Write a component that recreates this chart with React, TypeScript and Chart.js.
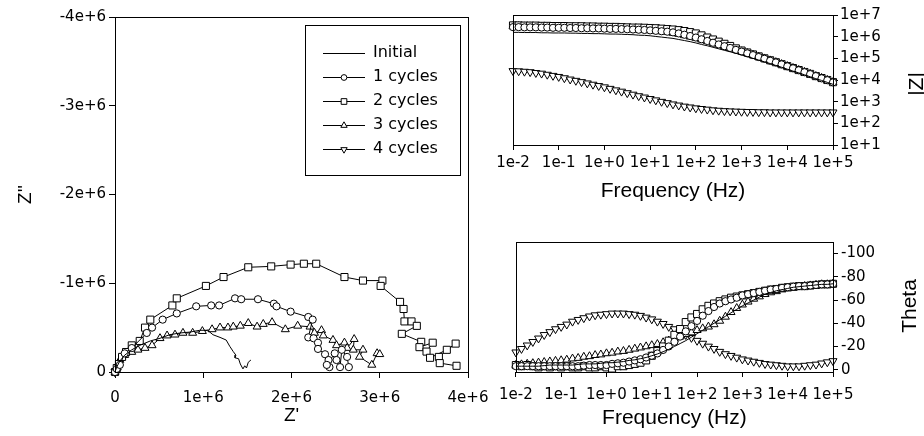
import React, { useEffect, useRef } from 'react';
import { Chart, registerables } from 'chart.js';

Chart.register(...registerables);
Chart.defaults.font.family = 'DejaVu Sans';
Chart.defaults.color = '#000';

// ---------- Series names ----------
const seriesLabels = ['Initial', '1 cycles', '2 cycles', '3 cycles', '4 cycles'];

// ---------- Nyquist data (Z' , Z'' in ohm) ----------
const nyqInitRe = [0, 2e4, 5.5e4, 1.1e5, 1.9e5, 2.8e5, 4.0e5, 5.1e5, 6.2e5, 7.4e5, 8.5e5, 9.6e5, 1.05e6, 1.11e6, 1.19e6, 1.26e6, 1.30e6, 1.34e6, 1.37e6, 1.36e6, 1.40e6, 1.42e6, 1.45e6, 1.47e6, 1.49e6, 1.51e6, 1.54e6];
const nyqInitIm = [0, -5.6e4, -1.24e5, -1.9e5, -2.5e5, -3.0e5, -3.5e5, -3.8e5, -4.2e5, -4.4e5, -4.5e5, -4.7e5, -4.7e5, -4.2e5, -3.9e5, -3.6e5, -2.9e5, -2.3e5, -1.9e5, -1.6e5, -1.5e5, -9e4, -3.5e4, -7e4, -4.5e4, -1.1e5, -1.35e5];

const nyqC1Re = [0, 2e4, 5.5e4, 1.1e5, 1.9e5, 3.6e5, 4.2e5, 5.4e5, 7.0e5, 9.2e5, 1.09e6, 1.18e6, 1.36e6, 1.43e6, 1.62e6, 1.80e6, 1.83e6, 1.99e6, 2.19e6, 2.24e6, 2.19e6, 2.25e6, 2.30e6, 2.30e6, 2.38e6, 2.42e6, 2.43e6, 2.40e6, 2.49e6, 2.51e6, 2.55e6, 2.57e6, 2.63e6, 2.65e6];
const nyqC1Im = [0, -3.5e4, -8e4, -2.1e5, -2.7e5, -4.4e5, -5.0e5, -5.9e5, -6.6e5, -7.4e5, -7.5e5, -7.5e5, -8.3e5, -8.2e5, -8.2e5, -7.7e5, -7.4e5, -6.8e5, -6.2e5, -5.9e5, -3.9e5, -3.8e5, -3.3e5, -2.6e5, -2.0e5, -1.35e5, -5.5e4, -8e4, -2.1e5, -1.35e5, -5.5e4, -2.5e5, -1.7e5, -5.5e4];

const nyqC2Re = [0, 2e4, 4.5e4, 8e4, 1.25e5, 1.9e5, 2.8e5, 3.4e5, 4.0e5, 6.5e5, 7.0e5, 1.03e6, 1.23e6, 1.51e6, 1.77e6, 1.99e6, 2.14e6, 2.28e6, 2.60e6, 2.81e6, 3.03e6, 3.01e6, 3.23e6, 3.27e6, 3.28e6, 3.36e6, 3.42e6, 3.25e6, 3.47e6, 3.45e6, 3.60e6, 3.53e6, 3.57e6, 3.76e6, 3.86e6, 3.67e6, 3.68e6, 3.87e6];
const nyqC2Im = [0, -4.5e4, -9e4, -1.7e5, -2.25e5, -3.0e5, -3.5e5, -5.0e5, -5.9e5, -7.5e5, -8.3e5, -9.7e5, -1.07e6, -1.18e6, -1.19e6, -1.21e6, -1.22e6, -1.22e6, -1.07e6, -1.03e6, -1.03e6, -9.7e5, -7.9e5, -7.1e5, -5.7e5, -5.7e5, -5.2e5, -4.3e5, -3.4e5, -2.8e5, -3.3e5, -2.3e5, -1.6e5, -2.5e5, -3.2e5, -1.7e5, -1.0e5, -7e4];

const nyqC3Re = [0, 2e4, 5.5e4, 1.1e5, 1.9e5, 2.6e5, 3.4e5, 4.2e5, 5.1e5, 5.9e5, 6.8e5, 7.7e5, 8.8e5, 9.9e5, 1.10e6, 1.19e6, 1.28e6, 1.34e6, 1.42e6, 1.51e6, 1.61e6, 1.68e6, 1.78e6, 1.93e6, 2.07e6, 2.21e6, 2.26e6, 2.34e6, 2.36e6, 2.47e6, 2.51e6, 2.60e6, 2.63e6, 2.71e6, 2.70e6, 2.81e6, 2.77e6, 2.91e6, 2.97e6, 3.00e6];
const nyqC3Im = [0, -4.5e4, -1.35e5, -1.9e5, -2.25e5, -2.5e5, -2.7e5, -3.0e5, -3.8e5, -4.1e5, -4.2e5, -4.4e5, -4.4e5, -4.6e5, -4.8e5, -5.0e5, -5.0e5, -5.1e5, -5.2e5, -5.5e5, -5.1e5, -5.4e5, -5.6e5, -4.8e5, -5.2e5, -5.1e5, -4.4e5, -4.7e5, -4.1e5, -3.6e5, -3.0e5, -3.3e5, -2.7e5, -3.7e5, -2.5e5, -2.5e5, -1.7e5, -8e4, -2.1e5, -2.0e5];

const nyqC4Re = [330, 2000, 8000, 20000, 26000];
const nyqC4Im = [-10, -1500, -8000, -12000, -7000];

const nyqXTicks = [0, 1e6, 2e6, 3e6, 4e6];
const nyqXTickLabels = ['0', '1e+6', '2e+6', '3e+6', '4e+6'];
const nyqYTicks = [-4e6, -3e6, -2e6, -1e6, 0];
const nyqYTickLabels = ['-4e+6', '-3e+6', '-2e+6', '-1e+6', '0'];

// ---------- Bode data (8 points per decade) ----------
const freqHz = [
  0.01, 0.0133, 0.0178, 0.0237, 0.0316, 0.0422, 0.0562, 0.075,
  0.1, 0.133, 0.178, 0.237, 0.316, 0.422, 0.562, 0.75,
  1, 1.33, 1.78, 2.37, 3.16, 4.22, 5.62, 7.5,
  10, 13.3, 17.8, 23.7, 31.6, 42.2, 56.2, 75,
  100, 133, 178, 237, 316, 422, 562, 750,
  1000, 1334, 1778, 2371, 3162, 4217, 5623, 7499,
  10000, 13335, 17783, 23714, 31623, 42170, 56234, 74989,
  100000,
];

const magInitial = [
  1.58e6, 1.58e6, 1.55e6, 1.55e6, 1.55e6, 1.51e6, 1.51e6, 1.48e6,
  1.48e6, 1.48e6, 1.45e6, 1.45e6, 1.41e6, 1.41e6, 1.38e6, 1.38e6,
  1.35e6, 1.32e6, 1.32e6, 1.29e6, 1.26e6, 1.23e6, 1.17e6, 1.15e6,
  1.10e6, 1.02e6, 9.55e5, 8.91e5, 8.32e5, 7.41e5, 6.61e5, 5.89e5,
  5.13e5, 4.37e5, 3.80e5, 3.24e5, 2.75e5, 2.34e5, 2.0e5, 1.70e5,
  1.45e5, 1.20e5, 1.0e5, 8.32e4, 6.92e4, 5.75e4, 4.68e4, 3.89e4,
  3.16e4, 2.57e4, 2.14e4, 1.74e4, 1.41e4, 1.15e4, 9.55e3, 7.76e3,
  6.31e3,
];
const mag1 = [
  2.75e6, 2.75e6, 2.69e6, 2.69e6, 2.69e6, 2.63e6, 2.63e6, 2.57e6,
  2.57e6, 2.57e6, 2.51e6, 2.51e6, 2.45e6, 2.45e6, 2.40e6, 2.40e6,
  2.34e6, 2.29e6, 2.29e6, 2.24e6, 2.19e6, 2.14e6, 2.09e6, 2.04e6,
  1.95e6, 1.86e6, 1.78e6, 1.70e6, 1.58e6, 1.41e6, 1.23e6, 1.07e6,
  9.12e5, 7.59e5, 6.31e5, 5.25e5, 4.37e5, 3.63e5, 3.02e5, 2.45e5,
  2.04e5, 1.70e5, 1.41e5, 1.15e5, 9.55e4, 7.76e4, 6.46e4, 5.25e4,
  4.27e4, 3.47e4, 2.82e4, 2.29e4, 1.86e4, 1.51e4, 1.20e4, 9.77e3,
  7.76e3,
];
const mag2 = [
  3.31e6, 3.31e6, 3.24e6, 3.24e6, 3.24e6, 3.16e6, 3.16e6, 3.09e6,
  3.09e6, 3.09e6, 3.02e6, 3.02e6, 3.02e6, 2.95e6, 2.95e6, 2.88e6,
  2.88e6, 2.82e6, 2.82e6, 2.75e6, 2.69e6, 2.63e6, 2.63e6, 2.57e6,
  2.51e6, 2.45e6, 2.34e6, 2.24e6, 2.14e6, 2.0e6, 1.82e6, 1.62e6,
  1.41e6, 1.15e6, 9.12e5, 7.41e5, 5.89e5, 4.68e5, 3.72e5, 2.88e5,
  2.29e5, 1.86e5, 1.51e5, 1.23e5, 1.0e5, 8.13e4, 6.61e4, 5.37e4,
  4.37e4, 3.55e4, 2.88e4, 2.34e4, 1.91e4, 1.51e4, 1.23e4, 1.0e4,
  7.94e3,
];
const mag3 = [
  3.02e6, 3.02e6, 2.95e6, 2.95e6, 2.88e6, 2.88e6, 2.82e6, 2.82e6,
  2.82e6, 2.75e6, 2.69e6, 2.63e6, 2.63e6, 2.57e6, 2.51e6, 2.51e6,
  2.45e6, 2.40e6, 2.34e6, 2.29e6, 2.24e6, 2.19e6, 2.09e6, 2.04e6,
  1.95e6, 1.86e6, 1.74e6, 1.62e6, 1.48e6, 1.32e6, 1.15e6, 1.0e6,
  8.71e5, 7.24e5, 6.17e5, 5.13e5, 4.27e5, 3.55e5, 2.95e5, 2.51e5,
  2.09e5, 1.74e5, 1.45e5, 1.17e5, 9.77e4, 7.94e4, 6.61e4, 5.37e4,
  4.37e4, 3.55e4, 2.88e4, 2.34e4, 1.91e4, 1.51e4, 1.23e4, 1.0e4,
  7.94e3,
];
const mag4 = [
  2.63e4, 2.57e4, 2.45e4, 2.34e4, 2.14e4, 2.0e4, 1.78e4, 1.58e4,
  1.41e4, 1.23e4, 1.07e4, 9.33e3, 8.13e3, 7.08e3, 6.17e3, 5.37e3,
  4.68e3, 3.98e3, 3.39e3, 2.95e3, 2.51e3, 2.14e3, 1.82e3, 1.58e3,
  1.35e3, 1.17e3, 1.0e3, 871, 759, 676, 603, 550,
  501, 468, 437, 407, 389, 372, 363, 355,
  347, 339, 339, 331, 331, 324, 324, 324,
  324, 324, 324, 324, 324, 324, 324, 324,
  324,
];

const thetaInitial = [
  -3, -3, -3, -3, -3, -3.5, -4, -4,
  -4, -4, -4, -4.5, -5, -5, -5, -5.5,
  -6, -6, -6.5, -7, -8, -8.5, -9.5, -10.5,
  -12, -13.5, -15.5, -17.5, -20, -22.5, -25, -28,
  -31, -34, -37, -40, -43, -46, -49, -52,
  -55, -57.5, -60, -62.5, -65, -66.5, -68, -69,
  -70, -71, -71.5, -72, -72.5, -73, -73.5, -73.5,
  -74,
];
const theta1 = [
  -3, -3, -3, -3, -3, -3, -3, -3,
  -3, -3, -3, -3, -3.5, -4, -4, -4,
  -4, -5, -5.5, -6, -7, -8, -9, -10.5,
  -12, -14, -17, -20, -24, -28.5, -33, -37.5,
  -42, -46.5, -50.5, -54, -57, -59, -60.5, -62,
  -64, -65, -66, -67, -68, -69, -69.5, -70.5,
  -71, -71.5, -72, -72, -72.5, -73, -73.5, -73.5,
  -74,
];
const theta2 = [
  -4, -3, -4, -3, -2, -3, -2, -3,
  -2, -3, -2, -2, -3, -2, -2, -3,
  -2, -1, -3, -3, -4, -5, -6, -8,
  -12, -16, -20, -25, -30, -35, -41, -45,
  -48, -52, -55, -57, -59, -60.5, -62, -63,
  -64, -65, -66, -67, -68, -69, -69.5, -70.5,
  -71, -71.5, -72, -72, -72.5, -73, -73.5, -73.5,
  -74,
];
const theta3 = [
  -4, -4.5, -5, -5.5, -6, -6.5, -7, -7.5,
  -8, -8.5, -9.5, -10, -11, -11.5, -12.5, -13,
  -14, -14.5, -15.5, -16, -17, -18, -19, -20,
  -21, -22, -23.5, -25, -26.5, -28.5, -30.5, -32,
  -34, -35.5, -37, -39, -42, -45.5, -49.5, -53,
  -56, -58.5, -61, -63, -65, -66.5, -67.5, -69,
  -70, -70.5, -71.5, -72, -72.5, -73, -73.5, -73.5,
  -74,
];
const theta4 = [
  -15, -18, -21, -24, -27, -30, -32.5, -35,
  -37, -39, -41.5, -43, -44.5, -46, -47, -47.5,
  -48, -48.5, -48.5, -48.5, -48, -47.5, -46.5, -45,
  -43.5, -41.5, -39.5, -37, -35, -32.5, -30, -27.5,
  -25, -22.5, -20, -18, -15.5, -13.5, -12, -10.5,
  -9, -8, -7, -6, -5, -4.5, -4, -3.5,
  -3, -3, -3, -3.5, -4, -4.5, -5.5, -6.5,
  -7.5,
];

const freqTicks = [0.01, 0.1, 1, 10, 100, 1000, 10000, 100000];
const freqTickLabels = ['1e-2', '1e-1', '1e+0', '1e+1', '1e+2', '1e+3', '1e+4', '1e+5'];
const magTicks = [10, 100, 1000, 1e4, 1e5, 1e6, 1e7];
const magTickLabels = ['1e+1', '1e+2', '1e+3', '1e+4', '1e+5', '1e+6', '1e+7'];
const thetaTicks = [-100, -80, -60, -40, -20, 0];
const thetaTickLabels = ['-100', '-80', '-60', '-40', '-20', '0'];

// ---------- styles ----------
const markerStyles: any[] = [
  { pointStyle: 'circle', pointRadius: 0 },
  { pointStyle: 'circle', pointRadius: 3.6 },
  { pointStyle: 'rect', pointRadius: 5 },
  { pointStyle: 'triangle', pointRadius: 4.6, pointRotation: 0 },
  { pointStyle: 'triangle', pointRadius: 4.6, pointRotation: 180 },
];

const tickFont = { family: 'DejaVu Sans', size: 15 };

function pts(xs: number[], ys: number[]) {
  return xs.map((x, i) => ({ x, y: ys[i] }));
}

function makeDatasets(pairs: [number[], number[]][]) {
  return pairs.map(([xs, ys], i) => ({
    label: seriesLabels[i],
    data: pts(xs, ys),
    showLine: true,
    borderColor: '#000',
    borderWidth: 1,
    pointBorderColor: '#000',
    pointBackgroundColor: '#fff',
    pointBorderWidth: 1,
    tension: 0,
    clip: false,
    ...markerStyles[i],
    pointHoverRadius: markerStyles[i].pointRadius,
  }));
}

const framePlugin = {
  id: 'frame',
  afterDraw(chart: any) {
    const { ctx, chartArea } = chart;
    const l = Math.round(chartArea.left) + 0.5;
    const t = Math.round(chartArea.top) + 0.5;
    const r = Math.round(chartArea.right) + 0.5;
    const b = Math.round(chartArea.bottom) + 0.5;
    ctx.save();
    ctx.strokeStyle = '#000';
    ctx.lineWidth = 1;
    ctx.strokeRect(l, t, r - l, b - t);
    ctx.restore();
  },
};

function drawMarker(ctx: CanvasRenderingContext2D, style: string, x: number, y: number, r: number, rotDeg: number) {
  ctx.beginPath();
  if (style === 'circle') {
    ctx.arc(x, y, r, 0, Math.PI * 2);
  } else if (style === 'rect') {
    const s = r * Math.SQRT1_2;
    ctx.rect(x - s, y - s, 2 * s, 2 * s);
  } else {
    let rad = (rotDeg * Math.PI) / 180;
    ctx.moveTo(x + Math.sin(rad) * r, y - Math.cos(rad) * r);
    rad += (2 * Math.PI) / 3;
    ctx.lineTo(x + Math.sin(rad) * r, y - Math.cos(rad) * r);
    rad += (2 * Math.PI) / 3;
    ctx.lineTo(x + Math.sin(rad) * r, y - Math.cos(rad) * r);
    ctx.closePath();
  }
  ctx.fillStyle = '#fff';
  ctx.fill();
  ctx.stroke();
}

const nyqLegendPlugin = {
  id: 'nyqLegend',
  afterDraw(chart: any) {
    const ctx: CanvasRenderingContext2D = chart.ctx;
    ctx.save();
    ctx.fillStyle = '#fff';
    ctx.fillRect(305.5, 25.5, 155, 150);
    ctx.strokeStyle = '#000';
    ctx.lineWidth = 1;
    ctx.strokeRect(305.5, 25.5, 155, 150);
    ctx.font = '16px "DejaVu Sans"';
    ctx.textBaseline = 'middle';
    ctx.textAlign = 'left';
    chart.data.datasets.forEach((ds: any, i: number) => {
      const y = 53 + i * 24;
      ctx.beginPath();
      ctx.moveTo(323, Math.round(y) + 0.5);
      ctx.lineTo(365, Math.round(y) + 0.5);
      ctx.stroke();
      if (ds.pointRadius > 0) {
        drawMarker(ctx, ds.pointStyle, 344, y + 0.5, ds.pointRadius * 0.8, ds.pointRotation || 0);
      }
      ctx.fillStyle = '#000';
      ctx.fillText(ds.label, 373, y);
    });
    ctx.restore();
  },
};

function sideTitlePlugin(text: string, x: number, y: number) {
  return {
    id: 'sideTitle',
    afterDraw(chart: any) {
      const ctx: CanvasRenderingContext2D = chart.ctx;
      ctx.save();
      ctx.font = '21px "Liberation Sans"';
      ctx.fillStyle = '#000';
      ctx.textAlign = 'center';
      ctx.textBaseline = 'middle';
      ctx.translate(x, y);
      ctx.rotate(-Math.PI / 2);
      ctx.fillText(text, 0, 0);
      ctx.restore();
    },
  };
}

function axisBase(ticksArr: number[], labels: string[], tickLen: number, pad: number, fit: (s: any) => void) {
  return {
    afterBuildTicks: (s: any) => {
      s.ticks = ticksArr.map((v) => ({ value: v }));
    },
    afterFit: fit,
    ticks: {
      font: tickFont,
      color: '#000',
      padding: pad,
      autoSkip: false,
      maxRotation: 0,
      minRotation: 0,
      callback: (_v: any, i: number) => labels[i],
    },
    grid: { display: true, drawOnChartArea: false, drawTicks: true, tickLength: tickLen, color: '#000', lineWidth: 1 },
    border: { display: false },
  };
}

const commonOpts = {
  responsive: false,
  maintainAspectRatio: false,
  animation: false as const,
  devicePixelRatio: 1,
  events: [] as any[],
  plugins: { legend: { display: false }, tooltip: { enabled: false } },
};

export default function App() {
  const nyqRef = useRef<HTMLCanvasElement>(null);
  const magRef = useRef<HTMLCanvasElement>(null);
  const phRef = useRef<HTMLCanvasElement>(null);

  useEffect(() => {
    const nyq = new Chart(nyqRef.current as HTMLCanvasElement, {
      type: 'scatter',
      data: {
        datasets: makeDatasets([
          [nyqInitRe, nyqInitIm],
          [nyqC1Re, nyqC1Im],
          [nyqC2Re, nyqC2Im],
          [nyqC3Re, nyqC3Im],
          [nyqC4Re, nyqC4Im],
        ]) as any,
      },
      options: {
        ...commonOpts,
        layout: { padding: { left: 0, top: 17, right: 32, bottom: 0 } },
        scales: {
          x: {
            type: 'linear',
            position: 'bottom',
            min: 0,
            max: 4e6,
            ...axisBase(nyqXTicks, nyqXTickLabels, 6, 11, (s: any) => { s.height = 64; }),
            title: { display: true, text: "Z'", font: { family: 'Liberation Sans', size: 19 }, color: '#000', padding: { top: 0, bottom: 9 } },
          },
          y: {
            type: 'linear',
            position: 'left',
            min: -4e6,
            max: 0,
            reverse: true,
            ...axisBase(nyqYTicks, nyqYTickLabels, 6, 3, (s: any) => { s.width = 115; }),
            title: { display: true, text: "Z''", font: { family: 'Liberation Sans', size: 19 }, color: '#000', padding: { top: 14, bottom: 0 } },
          },
        },
      } as any,
      plugins: [framePlugin, nyqLegendPlugin],
    });

    const mag = new Chart(magRef.current as HTMLCanvasElement, {
      type: 'scatter',
      data: {
        datasets: makeDatasets([
          [freqHz, magInitial],
          [freqHz, mag1],
          [freqHz, mag2],
          [freqHz, mag3],
          [freqHz, mag4],
        ]) as any,
      },
      options: {
        ...commonOpts,
        layout: { padding: { left: 23, top: 15, right: 0, bottom: 0 } },
        scales: {
          x: {
            type: 'logarithmic',
            position: 'bottom',
            min: 0.01,
            max: 1e5,
            ...axisBase(freqTicks, freqTickLabels, 5, 4, (s: any) => { s.height = 75; }),
            title: { display: true, text: 'Frequency (Hz)', font: { family: 'Liberation Sans', size: 21 }, color: '#000', padding: { top: 0, bottom: 16 } },
          },
          y: {
            type: 'logarithmic',
            position: 'right',
            min: 10,
            max: 1e7,
            ...axisBase(magTicks, magTickLabels, 5, 2, (s: any) => { s.width = 91; }),
          },
        },
      } as any,
      plugins: [framePlugin, sideTitlePlugin('|Z|', 427, 84)],
    });

    const ph = new Chart(phRef.current as HTMLCanvasElement, {
      type: 'scatter',
      data: {
        datasets: makeDatasets([
          [freqHz, thetaInitial],
          [freqHz, theta1],
          [freqHz, theta2],
          [freqHz, theta3],
          [freqHz, theta4],
        ]) as any,
      },
      options: {
        ...commonOpts,
        layout: { padding: { left: 23, top: 22, right: 0, bottom: 0 } },
        scales: {
          x: {
            type: 'logarithmic',
            position: 'bottom',
            min: 0.01,
            max: 1e5,
            ...axisBase(freqTicks, freqTickLabels, 5, 9, (s: any) => { s.height = 64; }),
            title: { display: true, text: 'Frequency (Hz)', font: { family: 'Liberation Sans', size: 21 }, color: '#000', padding: { top: 0, bottom: 5 } },
          },
          y: {
            type: 'linear',
            position: 'right',
            min: -110,
            max: 2,
            reverse: true,
            ...axisBase(thetaTicks, thetaTickLabels, 5, 3, (s: any) => { s.width = 91; }),
          },
        },
      } as any,
      plugins: [framePlugin, sideTitlePlugin('Theta', 420, 86)],
    });

    return () => {
      nyq.destroy();
      mag.destroy();
      ph.destroy();
    };
  }, []);

  return (
    <div style={{ position: 'fixed', left: 0, top: 0, width: 924, height: 436, background: '#fff', overflow: 'hidden' }}>
      <canvas ref={nyqRef} width={500} height={436} style={{ position: 'absolute', left: 0, top: 0 }} />
      <canvas ref={magRef} width={434} height={220} style={{ position: 'absolute', left: 490, top: 0 }} />
      <canvas ref={phRef} width={434} height={216} style={{ position: 'absolute', left: 490, top: 220 }} />
    </div>
  );
}
